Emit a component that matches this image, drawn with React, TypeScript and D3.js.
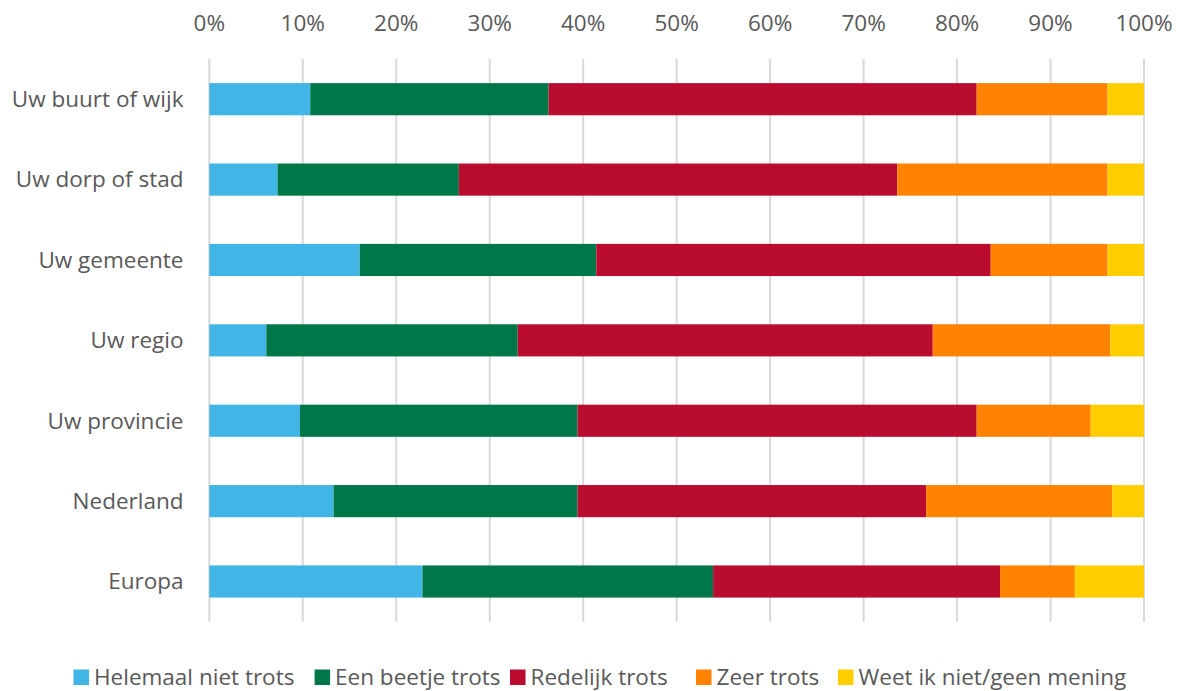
import React from "react";
import * as d3 from "d3";

const categories = [
  "Uw buurt of wijk",
  "Uw dorp of stad",
  "Uw gemeente",
  "Uw regio",
  "Uw provincie",
  "Nederland",
  "Europa",
];

const seriesNames = [
  "Helemaal niet trots",
  "Een beetje trots",
  "Redelijk trots",
  "Zeer trots",
  "Weet ik niet/geen mening",
];

const helemaalNiet = [10.8, 7.3, 16.1, 6.1, 9.7, 13.3, 22.8];
const eenBeetje = [25.5, 19.4, 25.3, 26.9, 29.7, 26.1, 31.1];
const redelijk = [45.8, 46.9, 42.2, 44.4, 42.7, 37.3, 30.7];
const zeer = [14.0, 22.5, 12.5, 19.0, 12.2, 19.9, 8.0];
const weetNiet = [3.9, 3.9, 3.9, 3.6, 5.7, 3.4, 7.4];

const colors = ["#41b6e6", "#007749", "#ba0c2f", "#ff8200", "#ffcd00"];
const ticks = [0, 10, 20, 30, 40, 50, 60, 70, 80, 90, 100];

const W = 1183;
const H = 691;
const left = 209.3;
const right = 1144;
const top = 59;
const bottom = 621.7;

export default function App() {
  const seriesValues = [helemaalNiet, eenBeetje, redelijk, zeer, weetNiet];
  const rows = categories.map((c, i) => {
    const r: any = { cat: c };
    seriesNames.forEach((s, j) => (r[s] = seriesValues[j][i]));
    return r;
  });
  const stack = d3.stack<any>().keys(seriesNames).offset(d3.stackOffsetExpand);
  const stacked = stack(rows);

  const x = d3.scaleLinear().domain([0, 1]).range([left, right]);
  const y = d3
    .scaleBand<string>()
    .domain(categories)
    .range([top, bottom])
    .paddingInner(0.6)
    .paddingOuter(0.3);

  const font = "'Open Sans', 'Segoe UI', sans-serif";
  const textColor = "#595959";

  const legendX = [73.5, 314.6, 510, 696, 838];

  return (
    <svg
      width={W}
      height={H}
      style={{ position: "absolute", left: 0, top: 0, background: "#fff" }}
      fontFamily={font}
    >
      {ticks.map((t) => (
        <g key={t}>
          <line
            x1={x(t / 100)}
            x2={x(t / 100)}
            y1={top}
            y2={bottom}
            stroke="#d9d9d9"
            strokeWidth={2}
          />
          <text
            x={x(t / 100)}
            y={31}
            textAnchor="middle"
            fontSize={22.5}
            fill={textColor}
          >
            {t}%
          </text>
        </g>
      ))}
      {stacked.map((s, j) => (
        <g key={s.key} fill={colors[j]}>
          {s.map((d, i) => (
            <rect
              key={i}
              x={x(d[0])}
              width={x(d[1]) - x(d[0])}
              y={y(categories[i])}
              height={y.bandwidth()}
            />
          ))}
        </g>
      ))}
      {categories.map((c) => (
        <text
          key={c}
          x={183.5}
          y={(y(c) as number) + y.bandwidth() / 2}
          dy="0.35em"
          textAnchor="end"
          fontSize={22.5}
          fill={textColor}
        >
          {c}
        </text>
      ))}
      {seriesNames.map((s, j) => (
        <g key={s}>
          <rect x={legendX[j]} y={669.5} width={15.5} height={15.5} fill={colors[j]} />
          <text
            x={legendX[j] + 20.5}
            y={684.5}
            fontSize={22.5}
            fill={textColor}
          >
            {s}
          </text>
        </g>
      ))}
    </svg>
  );
}
